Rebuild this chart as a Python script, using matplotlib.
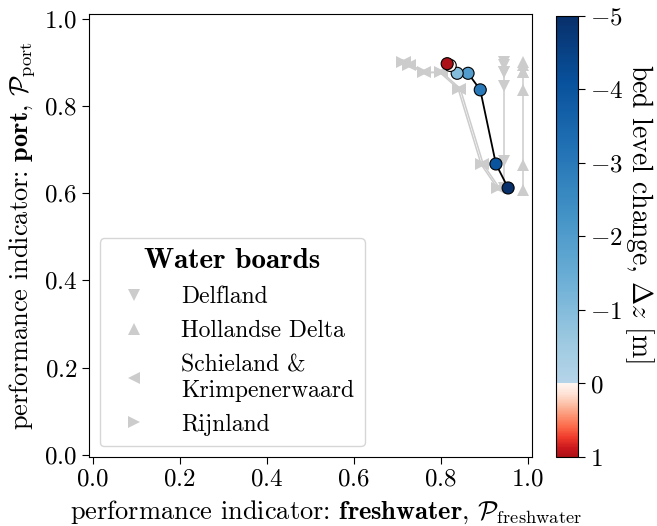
import numpy as np
import matplotlib
matplotlib.use("Agg")
import matplotlib.pyplot as plt
from matplotlib.colors import ListedColormap, Normalize
from matplotlib.lines import Line2D
import matplotlib.cm as cm

plt.rcParams['font.family'] = 'serif'
plt.rcParams['font.serif'] = ['cmr10', 'DejaVu Serif']
plt.rcParams['mathtext.fontset'] = 'cm'
plt.rcParams['axes.formatter.use_mathtext'] = True

# bed level change scenarios [m]
bed_change = [1, 0, -1, -2, -3, -4, -5]

# overall performance (black line)
overall_fw = [0.815, 0.822, 0.838, 0.863, 0.891, 0.927, 0.955]
overall_port = [0.897, 0.893, 0.875, 0.875, 0.837, 0.667, 0.612]

# water boards
board_names = ['Delfland', 'Hollandse Delta', 'Schieland &\nKrimpenerwaard', 'Rijnland']
board_markers = ['v', '^', '<', '>']
delfland_fw = [0.945, 0.945, 0.945, 0.945, 0.945, 0.945, 0.945]
delfland_port = [0.902, 0.895, 0.879, 0.879, 0.845, 0.673, 0.612]
hollandse_fw = [0.990, 0.990, 0.990, 0.990, 0.990, 0.990, 0.990]
hollandse_port = [0.902, 0.895, 0.879, 0.879, 0.837, 0.665, 0.608]
schieland_fw = [0.718, 0.730, 0.765, 0.803, 0.845, 0.898, 0.935]
schieland_port = [0.900, 0.895, 0.877, 0.877, 0.840, 0.666, 0.612]
rijnland_fw = [0.712, 0.725, 0.760, 0.798, 0.840, 0.893, 0.930]
rijnland_port = [0.900, 0.895, 0.877, 0.877, 0.840, 0.666, 0.612]

boards_fw = [delfland_fw, hollandse_fw, schieland_fw, rijnland_fw]
boards_port = [delfland_port, hollandse_port, schieland_port, rijnland_port]

# colormap: blues for erosion (negative), reds for sedimentation (positive)
vmin, vmax = -5, 1
n_neg, n_pos = 500, 100
blues = plt.get_cmap('Blues')(np.linspace(1.0, 0.3, n_neg))
reds = plt.get_cmap('Reds')(np.linspace(0.0, 0.85, n_pos))
cmap = ListedColormap(np.vstack([blues, reds]))
norm = Normalize(vmin=vmin, vmax=vmax)

fig = plt.figure(figsize=(6.57, 5.26), dpi=100)
ax = fig.add_axes([0.1355, 0.1312, 0.6743, 0.8422])
cax = fig.add_axes([0.8463, 0.1312, 0.0335, 0.8384])

gray = '#cccccc'
for fw, port, mk in zip(boards_fw, boards_port, board_markers):
    ax.plot(fw, port, color=gray, lw=1.1, marker=mk, markersize=9,
            markeredgewidth=0, zorder=1)

ax.plot(overall_fw, overall_port, color='black', lw=1.3, zorder=2)
order = np.argsort(bed_change)
ax.scatter(np.array(overall_fw)[order], np.array(overall_port)[order],
           c=np.array(bed_change)[order], cmap=cmap, norm=norm,
           s=75, edgecolors='black', linewidths=0.8, zorder=3)

ax.set_xlim(-0.008, 1.01)
ax.set_ylim(-0.005, 1.011)
ax.set_xticks(np.arange(0, 1.01, 0.2))
ax.set_yticks(np.arange(0, 1.01, 0.2))
ax.tick_params(labelsize=18, length=5)
ax.set_xlabel(r'performance indicator: $\mathbf{freshwater}$, $\mathcal{P}_{\mathrm{freshwater}}$',
              fontsize=19)
ax.xaxis.set_label_coords(0.535, -0.095)
ax.set_ylabel(r'performance indicator: $\mathbf{port}$, $\mathcal{P}_{\mathrm{port}}$',
              fontsize=19, labelpad=5)

handles = [Line2D([], [], color=gray, marker=mk, linestyle='none', markersize=9,
                  markeredgewidth=0) for mk in board_markers]
leg = ax.legend(handles, board_names, loc='lower left', bbox_to_anchor=(0.0, 0.0),
                borderaxespad=0.45, fontsize=17, title='Water boards',
                title_fontproperties={'family': 'cmb10', 'size': 21},
                handletextpad=1.0, borderpad=0.45, labelspacing=0.5)
leg.get_frame().set_edgecolor('#cccccc')

sm = cm.ScalarMappable(norm=norm, cmap=cmap)
cb = fig.colorbar(sm, cax=cax)
cb.set_ticks(range(vmin, vmax + 1))
cax.invert_yaxis()
cax.tick_params(labelsize=18, length=5)
cb.set_label(r'bed level change, $\Delta z$ [m]', fontsize=20, rotation=270)
cax.yaxis.set_label_coords(4.55, 0.553)

fig.savefig('out.png', dpi=100)
